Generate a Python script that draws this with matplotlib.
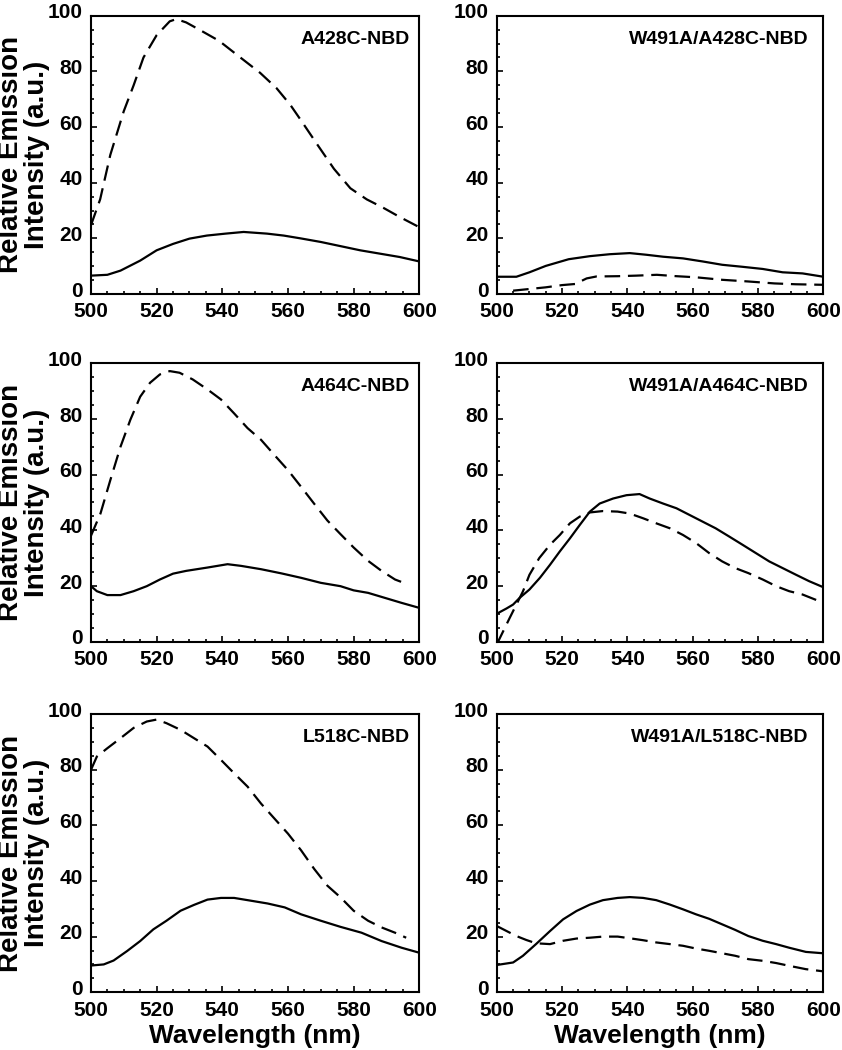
import matplotlib
matplotlib.use("Agg")
import matplotlib.pyplot as plt
import matplotlib.transforms as mtransforms
from matplotlib.ticker import MultipleLocator

plt.rcParams["font.family"] = ["Liberation Sans", "DejaVu Sans"]
plt.rcParams["font.weight"] = "bold"

# -- A428C-NBD ----------------------------------------------------------------
a428_dash_wl = [500, 502.8, 505.9, 510, 513, 516, 520, 524, 526, 529, 533, 539,
                545.5, 551.5, 556.5, 560.7, 563.8, 569, 574, 579, 584, 589, 594, 600]
a428_dash = [24.7, 34, 50, 65.7, 75, 85, 93, 98, 98.8, 97.6, 95, 91,
             85, 79.5, 74, 68, 62.7, 53.6, 45, 38, 34, 31, 27.7, 24]
a428_solid_wl = [500, 505, 509, 515, 520, 525, 530, 535.3, 541, 546.5, 553.6,
                 558.7, 563.8, 570, 576, 582, 588, 594, 600]
a428_solid = [6.6, 6.9, 8.4, 12, 15.7, 18, 19.9, 21, 21.7, 22.3, 21.7,
              21, 20, 18.7, 17.2, 15.7, 14.5, 13.3, 11.7]

# -- W491A/A428C-NBD ----------------------------------------------------------
w428_dash_wl = [505, 510, 515, 520, 524, 527.5, 530.5, 537, 542.7, 549, 555,
                561, 569, 577, 585, 591.5, 600]
w428_dash = [1.2, 1.8, 2.4, 3.2, 3.6, 5.6, 6.3, 6.4, 6.6, 6.9, 6.4,
             6, 5.1, 4.5, 3.8, 3.5, 3.3]
w428_solid_wl = [500, 506, 510, 515, 522, 528.5, 534.6, 540.7, 545.8, 550.9,
                 557, 563, 569, 575, 581.4, 587.5, 593.6, 600]
w428_solid = [6.2, 6.2, 7.8, 10.1, 12.5, 13.6, 14.3, 14.7, 14.1, 13.4,
              12.8, 11.7, 10.5, 9.8, 9, 7.8, 7.4, 6.2]

# -- A464C-NBD ----------------------------------------------------------------
a464_dash_wl = [500, 502.9, 505.9, 509, 512, 515, 518, 521, 524, 527, 531,
                535.5, 539.6, 543.6, 547.7, 551.8, 555.9, 560, 564, 568, 572,
                576, 580, 584.4, 588.5, 592.6, 596.6]
a464_dash = [38, 46, 58, 70, 79.7, 88, 93, 96, 97.2, 96.6, 94.2,
             90.6, 87, 82, 76.7, 72.5, 67, 61.6, 55.6, 49.5, 43.5,
             38.6, 33.8, 29, 25.4, 22.3, 20.5]
a464_solid_wl = [500, 501.8, 505, 509, 513, 517, 521, 525, 529, 535.5, 541.6,
                 545.7, 551.8, 558, 564, 570, 576, 580, 584.4, 589.5, 594.6, 600]
a464_solid = [19.9, 18.1, 16.7, 16.7, 18.1, 19.9, 22.3, 24.4, 25.4, 26.6, 27.8,
              27.2, 26, 24.5, 22.9, 21.1, 19.9, 18.4, 17.5, 15.7, 13.9, 12.1]

# -- W491A/A464C-NBD ----------------------------------------------------------
w464_dash_wl = [500, 502, 504, 506, 508, 510, 513, 516.3, 519.3, 522.4, 525.4,
                528.5, 532.5, 537, 540.7, 544.8, 548.8, 553, 557, 561, 565,
                569, 573, 577, 581.4, 585.5, 589.5, 593.6, 600]
w464_dash = [-1, 3.8, 8.6, 13.3, 18, 24, 30, 34.8, 38.3, 42.5, 44.9,
             46.4, 46.9, 46.7, 46, 44.3, 42.5, 40.7, 38.3, 35.4, 31.8,
             28.8, 26.4, 24.6, 22.3, 19.9, 18.1, 16.9, 13.9]
w464_solid_wl = [500, 503, 505, 507, 510, 513.2, 516.3, 519.3, 522.4, 525.4,
                 528.5, 531.5, 535.6, 539.7, 543.7, 546.8, 550.9, 555, 559, 563,
                 567, 571.2, 575.2, 579.3, 583.4, 587.5, 591.6, 595.6, 600]
w464_solid = [10, 11.9, 13.3, 15.7, 18.7, 22.9, 27.6, 32.4, 37.1, 41.9,
              46.7, 49.6, 51.4, 52.6, 53, 51.4, 49.6, 47.9, 45.5, 43.1,
              40.7, 37.7, 34.8, 31.8, 28.8, 26.4, 24, 21.7, 19.5]

# -- L518C-NBD ----------------------------------------------------------------
l518_dash_wl = [500, 501.8, 505, 509, 513, 517, 520, 523, 527.3, 531.4, 535.5,
                539.6, 543.6, 547.7, 551.8, 555.9, 560, 564, 568, 572, 576,
                580, 584.4, 588.5, 592.6, 596]
l518_dash = [79.9, 84.7, 87.7, 91.3, 95, 97.3, 98, 96.7, 94.3, 91.3, 88.3,
             83.5, 78.7, 73.9, 67.8, 62.4, 57, 51, 44.3, 38.3, 34.1,
             29.3, 25.7, 23.3, 21.4, 19.6]
l518_solid_wl = [500, 503.9, 506.9, 511, 515, 519, 523, 527.3, 531.4, 535.5,
                 539.6, 543.6, 547.7, 553.8, 559, 564, 570, 576, 582.4, 588.5,
                 594.6, 600]
l518_solid = [9.6, 10, 11.4, 14.8, 18.4, 22.6, 25.7, 29.3, 31.4, 33.3,
              33.9, 33.9, 33.1, 31.9, 30.5, 28, 25.7, 23.5, 21.4, 18.4,
              16, 14.2]

# -- W491A/L518C-NBD ----------------------------------------------------------
w518_dash_wl = [500, 503, 506, 509, 512, 516.3, 520.3, 524.4, 528.5, 532.5, 537,
                540.7, 544.8, 548.8, 553, 557, 561, 565, 569, 573, 577,
                581.4, 585.5, 589.5, 594.6, 600]
w518_dash = [23.8, 22, 20.2, 18.8, 17.6, 17.3, 18.5, 19.3, 19.6, 20, 20,
             19.4, 18.7, 17.9, 17.3, 16.7, 15.7, 14.9, 14, 13.1, 11.9,
             11.3, 10.5, 9.5, 8.3, 7.5]
w518_solid_wl = [500, 505, 508, 512, 516.3, 520.3, 524.4, 528.5, 532.5, 537,
                 540.7, 544.8, 548.8, 553, 557, 561, 565, 569, 573, 577,
                 581.4, 585.5, 589.5, 594.6, 600]
w518_solid = [9.8, 10.7, 13.1, 17.3, 22, 26.2, 29.2, 31.5, 33.1, 33.9,
              34.2, 33.9, 33.1, 31.5, 29.8, 28, 26.4, 24.4, 22.4, 20.2,
              18.5, 17.3, 16, 14.5, 14]

panels = [
    ("A428C-NBD", a428_solid_wl, a428_solid, a428_dash_wl, a428_dash),
    ("W491A/A428C-NBD", w428_solid_wl, w428_solid, w428_dash_wl, w428_dash),
    ("A464C-NBD", a464_solid_wl, a464_solid, a464_dash_wl, a464_dash),
    ("W491A/A464C-NBD", w464_solid_wl, w464_solid, w464_dash_wl, w464_dash),
    ("L518C-NBD", l518_solid_wl, l518_solid, l518_dash_wl, l518_dash),
    ("W491A/L518C-NBD", w518_solid_wl, w518_solid, w518_dash_wl, w518_dash),
]

fig = plt.figure(figsize=(8.42, 10.5), dpi=100)

col_left = [0.108, 0.590]
col_width = [0.390, 0.388]
row_bottom = [0.720, 0.389, 0.055]
row_height = 0.265

# y tick labels sit a little above their ticks in the reference
ylab_shift = mtransforms.ScaledTranslation(0, 3.5 / 72, fig.dpi_scale_trans)

for i, (label, s_wl, s_val, d_wl, d_val) in enumerate(panels):
    row, col = divmod(i, 2)
    ax = fig.add_axes([col_left[col], row_bottom[row], col_width[col], row_height])

    ax.plot(s_wl, s_val, color="black", lw=1.6, solid_capstyle="butt")
    ax.plot(d_wl, d_val, color="black", lw=1.6, dashes=(7, 3.5))

    ax.set_xlim(500, 600)
    ax.set_ylim(0, 100)
    ax.xaxis.set_major_locator(MultipleLocator(20))
    ax.xaxis.set_minor_locator(MultipleLocator(5))
    ax.yaxis.set_major_locator(MultipleLocator(20))
    ax.yaxis.set_minor_locator(MultipleLocator(5))
    ax.tick_params(which="both", direction="in", top=False, right=False,
                   width=1.2, labelsize=15)
    ax.tick_params(axis="x", pad=6)
    ax.tick_params(axis="y", pad=6)
    ax.tick_params(which="major", length=4.5)
    ax.tick_params(which="minor", length=2.5)
    for sp in ax.spines.values():
        sp.set_linewidth(1.5)
    for t in ax.get_yticklabels():
        t.set_transform(t.get_transform() + ylab_shift)

    tx = 0.972 if col == 0 else 0.955
    ax.text(tx, 0.915, label, transform=ax.transAxes, ha="right", va="center",
            fontsize=14, fontweight="bold")

    if col == 0:
        ax.set_ylabel("Relative Emission\nIntensity (a.u.)", fontsize=20,
                      fontweight="bold", linespacing=1.0)
        ax.yaxis.set_label_coords(-0.125, 0.5)
    if row == 2:
        ax.set_xlabel("Wavelength (nm)", fontsize=19, fontweight="bold")
        ax.xaxis.set_label_coords(0.5, -0.115)

plt.savefig("out.png", dpi=100)
plt.close(fig)
